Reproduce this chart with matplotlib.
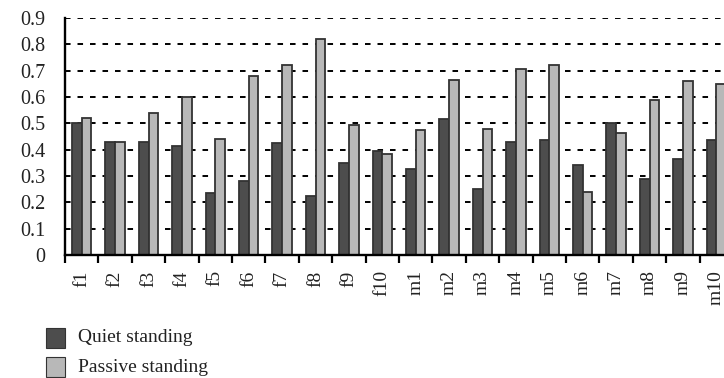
import matplotlib
matplotlib.use("Agg")
import matplotlib.pyplot as plt
import numpy as np
from matplotlib.patches import Rectangle

categories = ["f1", "f2", "f3", "f4", "f5", "f6", "f7", "f8", "f9", "f10",
              "m1", "m2", "m3", "m4", "m5", "m6", "m7", "m8", "m9", "m10"]
quiet = [0.50, 0.43, 0.43, 0.415, 0.235, 0.28, 0.425, 0.225, 0.35, 0.395,
         0.325, 0.515, 0.25, 0.43, 0.435, 0.34, 0.50, 0.29, 0.365, 0.435]
passive = [0.52, 0.43, 0.54, 0.60, 0.44, 0.68, 0.72, 0.82, 0.495, 0.385,
           0.475, 0.665, 0.48, 0.705, 0.72, 0.24, 0.465, 0.59, 0.66, 0.65]
series_names = ["Quiet standing", "Passive standing"]
yticks = [0, 0.1, 0.2, 0.3, 0.4, 0.5, 0.6, 0.7, 0.8, 0.9]
ytick_labels = ["0", "0.1", "0.2", "0.3", "0.4", "0.5", "0.6", "0.7", "0.8", "0.9"]

plt.rcParams['font.family'] = ['Liberation Serif', 'DejaVu Serif']
plt.rcParams['lines.scale_dashes'] = False

dark = "#4d4d4d"
light = "#b8b8b8"
edge = "#333333"

fig = plt.figure(figsize=(7.24, 3.78), dpi=100)
ax = fig.add_axes([65/724, 1-255/378, 1-65/724, (255-18)/378])

x = np.arange(len(categories))
w = 0.29
ax.bar(x - 0.145, quiet, width=w, color=dark, edgecolor=edge, linewidth=1.3, zorder=3)
ax.bar(x + 0.145, passive, width=w, color=light, edgecolor=edge, linewidth=1.3, zorder=3)

ax.set_xlim(-0.5, 19.23)
ax.set_ylim(0, 0.9)
ax.set_yticks(yticks)
ax.set_yticklabels(ytick_labels, fontsize=14.5, color='#222222')
ax.tick_params(axis='y', length=0, pad=14)

for v in yticks[1:]:
    ax.axhline(v, color='black', linewidth=1.4, linestyle=(0, (4, 5)), zorder=1)

ax.set_xticks(x)
ax.set_xticklabels(categories, rotation=90, fontsize=14, color='#222222')
ax.tick_params(axis='x', which='major', length=0, pad=11)
ax.set_xticks(np.arange(len(categories)) - 0.5, minor=True)
ax.tick_params(axis='x', which='minor', length=6, width=1.6, direction='out', color='black')

for s in ['top', 'right']:
    ax.spines[s].set_visible(False)
for s in ['left', 'bottom']:
    ax.spines[s].set_linewidth(1.7)
    ax.spines[s].set_color('black')
    ax.spines[s].set_zorder(4)

# legend below the plot
colors = [dark, light]
ys = [338, 367]
for name, c, yp in zip(series_names, colors, ys):
    fig.patches.append(Rectangle((46/724, 1-(yp+10)/378), 19/724, 20/378,
                                 transform=fig.transFigure, facecolor=c,
                                 edgecolor=edge, linewidth=0.8))
    fig.text(78/724, 1-yp/378, name, fontsize=14, va='center', ha='left',
             color='#222222')

fig.savefig("out.png", dpi=100)
